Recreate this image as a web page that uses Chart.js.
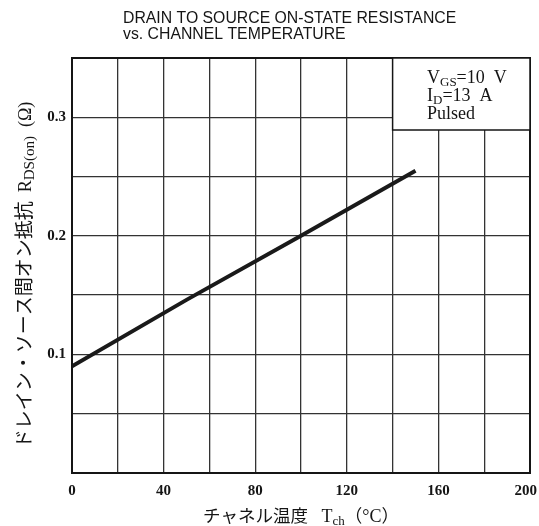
<!DOCTYPE html>
<html>
<head>
<meta charset="utf-8">
<script src="https://cdn.jsdelivr.net/npm/chart.js@4"></script>
<style>
  html, body { margin: 0; padding: 0; background: #fff; }
  #wrap { width: 539px; height: 526px; position: relative; }
</style>
</head>
<body>
<div id="wrap"><canvas id="chart-1"></canvas></div>
<script>
// data
const tempC = [0, 50, 100, 150]
const rdsOn = [0.09, 0.146, 0.2, 0.255]

const xTickLabels = ['0', '40', '80', '120', '160', '200']
const yTickLabels = ['0.1', '0.2', '0.3']

const titleLines = ['DRAIN TO SOURCE ON-STATE RESISTANCE', 'vs. CHANNEL TEMPERATURE']
const conditionLines = [
  [['V', 0], ['GS', 1], ['=10  V', 0]],
  [['I', 0], ['D', 1], ['=13  A', 0]],
  [['Pulsed', 0]]
]

const SERIF = '"Liberation Serif", "DejaVu Serif", serif'
const JP = '"Noto Sans CJK JP", sans-serif'
const INK = '#151515'
const TICK_FONT = 'bold 15px ' + SERIF

// draws a row of text pieces (font, dy) starting at x or centered on it
const drawRich = (ctx, segs, x, y, center) => {
  let total = 0
  segs.forEach(s => { ctx.font = s.f; total += ctx.measureText(s.t).width })
  let cx = center ? x - total / 2 : x
  segs.forEach(s => {
    ctx.font = s.f
    ctx.fillText(s.t, cx, y + (s.dy || 0))
    cx += ctx.measureText(s.t).width
  })
}

const decorations = {
  id: 'decorations',
  afterDraw(chart) {
    const ctx = chart.ctx
    const a = chart.chartArea
    const xs = chart.scales.x
    ctx.save()
    ctx.fillStyle = INK
    ctx.textBaseline = 'alphabetic'
    ctx.textAlign = 'left'

    // frame
    ctx.strokeStyle = INK
    ctx.lineWidth = 2
    ctx.strokeRect(a.left, a.top, a.right - a.left, a.bottom - a.top)

    // x tick labels, kept inside the page at the right end
    ctx.font = TICK_FONT
    xTickLabels.forEach(l => {
      const w = ctx.measureText(l).width
      let px = xs.getPixelForValue(Number(l)) - w / 2
      px = Math.min(px, chart.width - 2 - w)
      ctx.fillText(l, px, a.bottom + 22)
    })

    // title, two left-aligned lines
    ctx.font = '15.8px "Liberation Sans", Arial, sans-serif'
    ctx.fillText(titleLines[0], 123, 23)
    ctx.fillText(titleLines[1], 123, 39)

    // conditions box
    const bx = xs.getPixelForValue(140)
    ctx.fillStyle = '#fff'
    ctx.fillRect(bx, a.top, a.right - bx, 72)
    ctx.lineWidth = 1.5
    ctx.strokeRect(bx, a.top, a.right - bx, 72)
    ctx.fillStyle = INK
    conditionLines.forEach((line, i) => {
      const segs = line.map(([t, sub]) => ({
        t, f: (sub ? '13px ' : '18px ') + SERIF, dy: sub ? 3 : 0
      }))
      drawRich(ctx, segs, 427, 83 + i * 18, false)
    })

    // x axis title
    drawRich(ctx, [
      { t: 'チャネル温度', f: '17.5px ' + JP },
      { t: '   T', f: '18px ' + SERIF },
      { t: 'ch', f: '13px ' + SERIF, dy: 3 },
      { t: '（', f: '17.5px ' + JP },
      { t: '°C', f: '18px ' + SERIF },
      { t: '）', f: '17.5px ' + JP }
    ], (a.left + a.right) / 2, 522, true)

    // y axis title, rotated
    ctx.translate(31, 275)
    ctx.rotate(-Math.PI / 2)
    drawRich(ctx, [
      { t: 'ドレイン・ソース間オン抵抗', f: '19px ' + JP },
      { t: '  R', f: '18px ' + SERIF },
      { t: 'DS(on)', f: '15px ' + SERIF, dy: 3 },
      { t: '  (Ω)', f: '18px ' + SERIF }
    ], 0, 0, true)
    ctx.restore()
  }
}

const ctxChart1 = document.querySelector('#chart-1')

new Chart(ctxChart1, {
  type: 'line',
  data: {
    datasets: [{
      data: tempC.map((t, i) => ({ x: t, y: rdsOn[i] })),
      borderColor: '#1a1a1a',
      borderWidth: 4,
      pointRadius: 0,
      tension: 0
    }]
  },
  options: {
    responsive: true,
    maintainAspectRatio: false,
    animation: false,
    layout: { padding: { left: 0, top: 58, right: 9, bottom: 0 } },
    plugins: {
      legend: { display: false },
      tooltip: { enabled: false }
    },
    scales: {
      x: {
        type: 'linear',
        min: 0,
        max: 200,
        afterFit: (scale) => {
          scale.height = 53
          scale.paddingLeft = 0
          scale.paddingRight = 0
        },
        grid: { color: '#333', lineWidth: 1.3, drawTicks: false },
        border: { display: true, color: INK, width: 2 },
        ticks: {
          stepSize: 20,
          maxRotation: 0,
          autoSkip: false,
          // labels are drawn by the plugin; empty strings keep the grid lines
          callback: () => ''
        }
      },
      y: {
        min: 0,
        max: 0.35,
        afterFit: (scale) => {
          scale.width = 72
          scale.paddingTop = 0
          scale.paddingBottom = 0
        },
        grid: { color: '#333', lineWidth: 1.3, drawTicks: false },
        border: { display: true, color: INK, width: 2 },
        ticks: {
          stepSize: 0.05,
          padding: 6,
          autoSkip: false,
          color: INK,
          font: { family: SERIF, size: 15, weight: 'bold' },
          callback: (v) => yTickLabels.find(l => Math.abs(Number(l) - v) < 1e-6) || ''
        }
      }
    }
  },
  plugins: [decorations]
})
</script>
</body>
</html>
